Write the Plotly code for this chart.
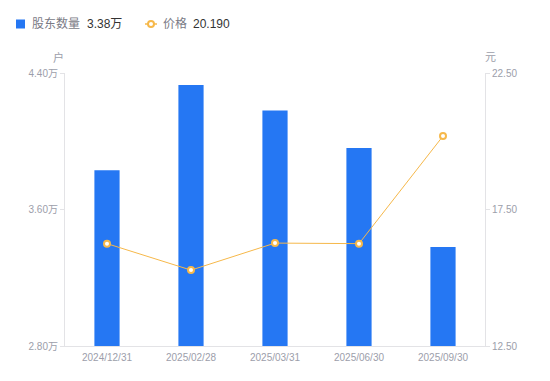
import plotly.graph_objects as go

dates = ["2024/12/31", "2025/02/28", "2025/03/31", "2025/06/30", "2025/09/30"]
holders = [3.83, 4.33, 4.18, 3.96, 3.38]   # 万户
prices = [16.25, 15.28, 16.27, 16.25, 20.19]
left_ticks = [2.8, 3.6, 4.4]
right_ticks = [12.5, 17.5, 22.5]

BLUE = "#2577f3"
ORANGE = "#f6b84a"
TICK = "#9c9eaa"
AXIS = "#e3e3e6"
FONT = "Liberation Sans, Noto Sans CJK SC, sans-serif"

# page body has 8px default margin; compensate
OFF = 8

fig = go.Figure()
fig.add_trace(go.Bar(x=dates, y=holders, marker=dict(color=BLUE, line=dict(width=0)),
                     yaxis="y", showlegend=False, hoverinfo="skip"))
fig.add_trace(go.Scatter(x=dates, y=prices, yaxis="y2", mode="lines+markers",
                         line=dict(color=ORANGE, width=1),
                         marker=dict(size=6, color="white", line=dict(color=ORANGE, width=2)),
                         showlegend=False, hoverinfo="skip"))

fig.update_layout(
    width=550 - OFF, height=381 - OFF,
    margin=dict(l=65 - OFF, r=65, t=73 - OFF, b=35),
    paper_bgcolor="white", plot_bgcolor="white",
    bargap=0.7,
    font=dict(family=FONT, size=10, color=TICK),
    xaxis=dict(showline=True, linecolor=AXIS, linewidth=1, showgrid=False,
               ticks="", tickfont=dict(size=10, color=TICK), zeroline=False,
               ticklabelstandoff=2),
    yaxis=dict(range=[2.8, 4.4], tickvals=left_ticks,
               ticktext=[f"{v:.2f}万" for v in left_ticks],
               showline=True, linecolor=AXIS, linewidth=1, showgrid=False,
               ticks="outside", ticklen=4, tickcolor=AXIS, zeroline=False,
               tickfont=dict(size=10, color=TICK)),
    yaxis2=dict(range=[12.5, 22.5], tickvals=right_ticks,
                ticktext=[f"{v:.2f}" for v in right_ticks],
                overlaying="y", side="right",
                showline=True, linecolor=AXIS, linewidth=1, showgrid=False,
                ticks="outside", ticklen=4, tickcolor=AXIS, zeroline=False,
                tickfont=dict(size=10, color=TICK)),
)

# axis unit titles
fig.add_annotation(text="户", xref="paper", yref="paper", x=-0.015, y=1.0, yshift=16,
                   showarrow=False, xanchor="center", yanchor="middle",
                   font=dict(size=11, color=TICK))
fig.add_annotation(text="元", xref="paper", yref="paper", x=1.012, y=1.0, yshift=16,
                   showarrow=False, xanchor="center", yanchor="middle",
                   font=dict(size=11, color=TICK))

# custom legend (positions in screen px)
def px_x(px):
    return (px - 65) / 420.0

def px_y(py):
    return (346 - py) / 273.0

LEG_Y = 24
fig.add_shape(type="rect", xref="paper", yref="paper",
              x0=px_x(16), x1=px_x(25), y0=px_y(28.5), y1=px_y(19.5),
              fillcolor=BLUE, line=dict(width=0))
fig.add_annotation(text="股东数量", xref="paper", yref="paper", x=px_x(30), y=px_y(LEG_Y),
                   showarrow=False, xanchor="left", yanchor="middle",
                   font=dict(size=12, color="#7a7a85"))
fig.add_annotation(text="3.38万", xref="paper", yref="paper", x=px_x(85), y=px_y(LEG_Y),
                   showarrow=False, xanchor="left", yanchor="middle",
                   font=dict(size=12, color="#333333"))
fig.add_shape(type="line", xref="paper", yref="paper",
              x0=px_x(145), x1=px_x(157), y0=px_y(LEG_Y), y1=px_y(LEG_Y),
              line=dict(color=ORANGE, width=1.5))
fig.add_shape(type="circle", xref="paper", yref="paper",
              x0=px_x(148), x1=px_x(154), y0=px_y(LEG_Y + 3), y1=px_y(LEG_Y - 3),
              fillcolor="white", line=dict(color=ORANGE, width=2))
fig.add_annotation(text="价格", xref="paper", yref="paper", x=px_x(161), y=px_y(LEG_Y),
                   showarrow=False, xanchor="left", yanchor="middle",
                   font=dict(size=12, color="#7a7a85"))
fig.add_annotation(text="20.190", xref="paper", yref="paper", x=px_x(191), y=px_y(LEG_Y),
                   showarrow=False, xanchor="left", yanchor="middle",
                   font=dict(size=12, color="#333333"))

fig.write_html("out.html")
